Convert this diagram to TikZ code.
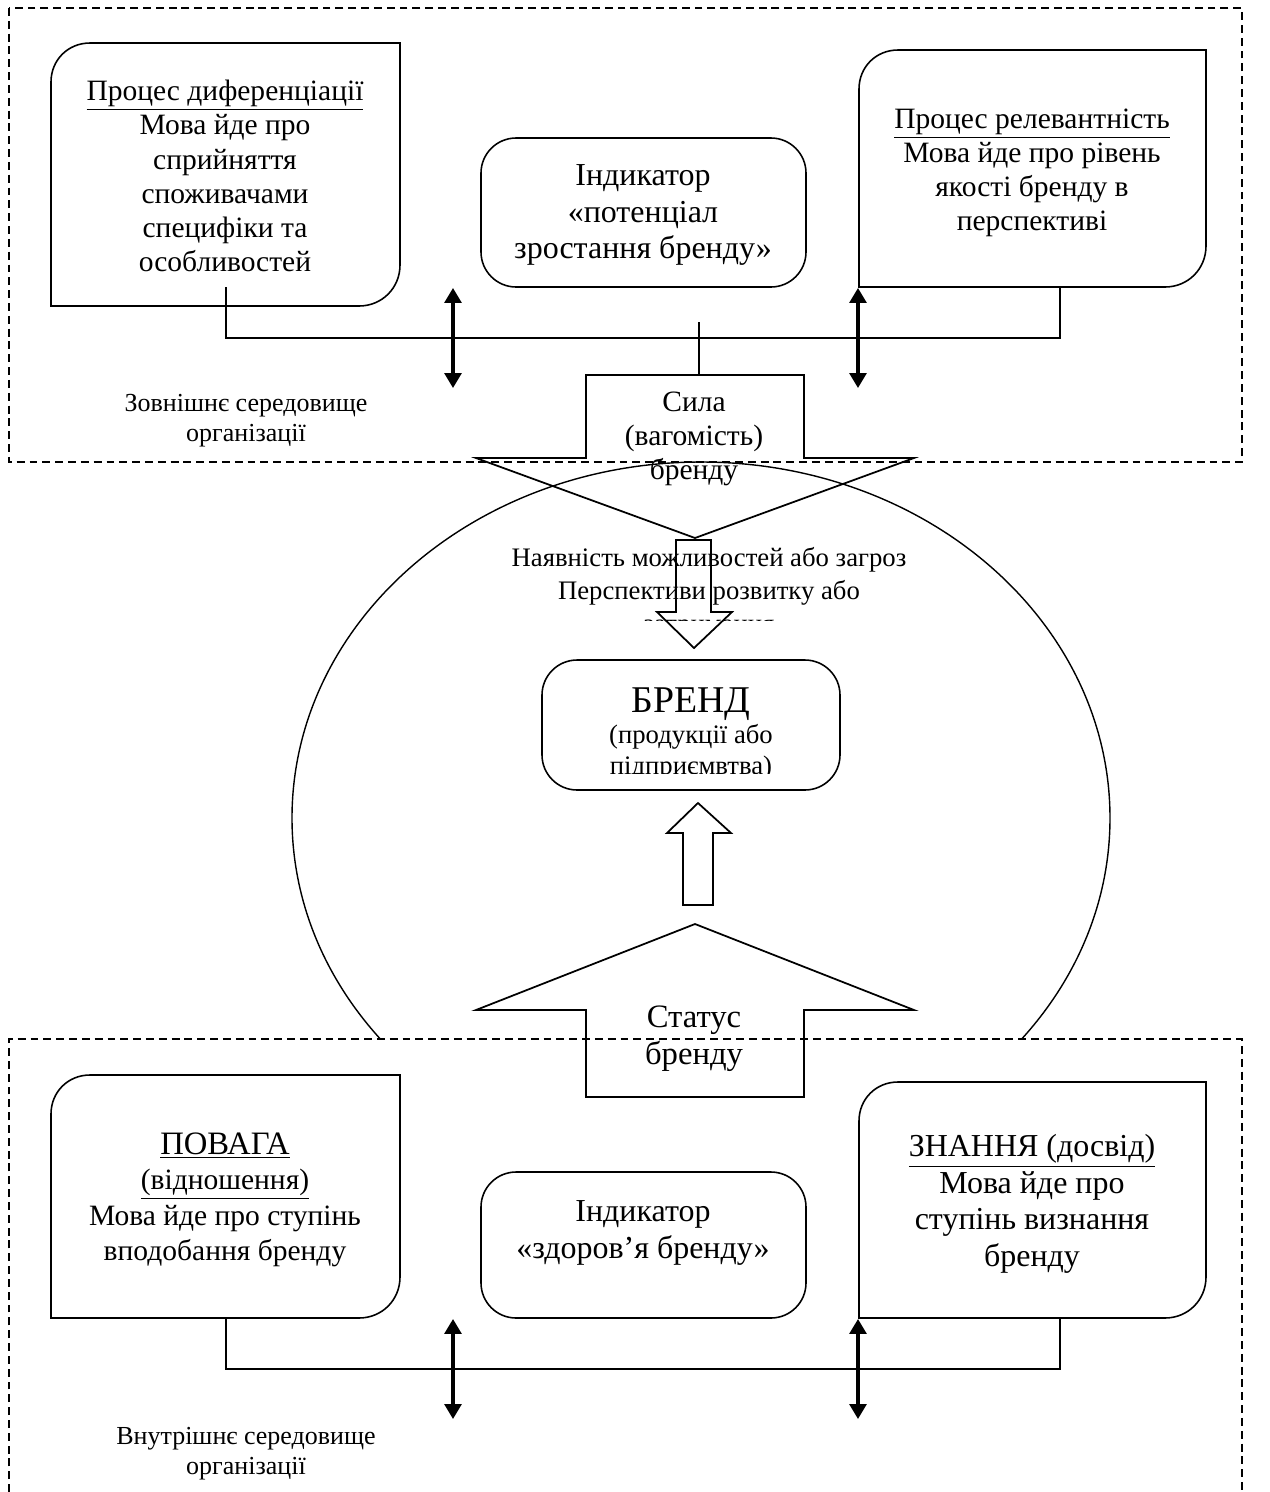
\documentclass[tikz,border=0pt]{standalone}
\usepackage{fontspec}
\setmainfont{Liberation Serif}
\usetikzlibrary{arrows.meta}

% box with a rounded top-left and bottom-right corner
\newcommand\cornerbox[4]{\draw[box] (#1,#4) -- (#1,#2+39) .. controls (#1,#2+17) and (#1+17,#2) .. (#1+39,#2) -- (#3,#2) -- (#3,#4-41) .. controls (#3,#4-18) and (#3-18,#4) .. (#3-41,#4) -- cycle;}

\tikzset{
  txt/.style={align=center,inner sep=0pt,font=\fontsize{16.8}{19.4}\selectfont},
  bigtxt/.style={align=center,inner sep=0pt,font=\fontsize{18.2}{20.8}\selectfont},
  smalltxt/.style={align=center,inner sep=0pt,font=\fontsize{14.8}{17}\selectfont},
  frame/.style={line width=.8pt,dash pattern=on 4.5pt off 2.8pt},
  box/.style={line width=.9pt},
  link/.style={line width=.8pt},
  dbl/.style={line width=1.8pt,{Triangle[length=8.5pt,width=9.6pt]}-{Triangle[length=8.5pt,width=9.6pt]}},
  blockarrow/.style={line width=1pt,line join=miter},
}

\begin{document}
\begin{tikzpicture}[x=0.02cm,y=-0.02cm]
\useasboundingbox (0,0) rectangle (1270,1492);
% circle of the brand and the two environments
\draw[line width=.8pt] (701,818) ellipse [x radius=409,y radius=356];
\draw[frame] (9,8) rectangle (1242,462);
\fill[white] (9,1039) rectangle (1242,1492);
\draw[frame] (9,1492) -- (9,1039) -- (1242,1039) -- (1242,1492);

% upper part
\cornerbox{51}{43}{400}{306}
\draw[box,rounded corners=20pt] (481,138) rectangle (806,287);
\cornerbox{859}{50}{1206}{287}
\node[txt] (diff) at (225,176) {\underline{Процес диференціації}\\Мова йде про\\сприйняття\\споживачами\\специфіки та\\особливостей};
\node[bigtxt] (potent) at (643,215) {Індикатор\\«потенціал\\зростання бренду»};
\node[txt] (relev) at (1032,173) {\underline{Процес релевантність}\\Мова йде про рівень\\якості бренду в\\перспективі};
\node[smalltxt] (outer) at (246,421) {Зовнішнє середовище\\організації};

\coordinate (diffEnd) at (226,287);
\coordinate (relevEnd) at (1060,287);
\coordinate (potentEnd) at (699,322);
\coordinate (silaTop) at (699,375);
\draw[link] (diffEnd) -- ++(0,51) -| (relevEnd);
\draw[link] (potentEnd) -- (silaTop);
\coordinate (upA1) at (453,288);\coordinate (upA2) at (453,388);
\coordinate (upB1) at (858,288);\coordinate (upB2) at (858,388);
\draw[dbl] (upA1) -- (upA2);
\draw[dbl] (upB1) -- (upB2);

% force of the brand
\draw[blockarrow] (586,375) -- (804,375) -- (804,458) -- (914,458) -- (695,538) -- (476,458) -- (586,458) -- cycle;
\node[txt] (sila) at (694,439) {Сила\\(вагомість)\\бренду};
\draw[blockarrow] (676,540) -- (711,540) -- (711,612) -- (732,612) -- (694,648) -- (657,612) -- (676,612) -- cycle;
\begin{scope}
\clip (300,530) rectangle (1100,620);
\node[smalltxt,font=\fontsize{15.2}{18.7}\selectfont] (chance) at (709,593) {Наявність можливостей або загроз\\Перспективи розвитку або\\затримання};
\end{scope}

% brand
\draw[box,rounded corners=20pt] (542,660) rectangle (840,790);
\begin{scope}
\clip (542,660) rectangle (840,773);
\node[smalltxt,font=\fontsize{15.2}{17.6}\selectfont] (brand) at (691,734) {{\fontsize{21.5}{26}\selectfont БРЕНД}\\(продукції або\\підприємвтва)};
\end{scope}
\draw[blockarrow] (683,905) -- (713,905) -- (713,833) -- (731,833) -- (698,803) -- (667,833) -- (683,833) -- cycle;

% status of the brand
\draw[blockarrow] (586,1097) -- (804,1097) -- (804,1010) -- (914,1010) -- (695,924) -- (476,1010) -- (586,1010) -- cycle;
\node[bigtxt,font=\fontsize{18.6}{21.2}\selectfont] (status) at (694,1039) {Статус\\бренду};

% lower part
\cornerbox{51}{1075}{400}{1318}
\draw[box,rounded corners=20pt] (481,1172) rectangle (806,1318);
\cornerbox{859}{1082}{1206}{1318}
\node[txt,font=\fontsize{16.8}{20.2}\selectfont] (respect) at (225,1200) {{\fontsize{18.6}{22.4}\selectfont\underline{ПОВАГА}}\\\underline{(відношення)}\\Мова йде про ступінь\\вподобання бренду};
\node[bigtxt] (health) at (643,1253) {Індикатор\\«здоров’я бренду»\\\strut};
\node[bigtxt] (know) at (1032,1204) {\underline{ЗНАННЯ (досвід)}\\Мова йде про\\ступінь визнання\\бренду};
\node[smalltxt] (inner) at (246,1454) {Внутрішнє середовище\\організації};

\coordinate (respEnd) at (226,1318);
\coordinate (knowEnd) at (1060,1318);
\draw[link] (respEnd) -- ++(0,51) -| (knowEnd);
\coordinate (dnA1) at (453,1319);\coordinate (dnA2) at (453,1419);
\coordinate (dnB1) at (858,1319);\coordinate (dnB2) at (858,1419);
\draw[dbl] (dnA1) -- (dnA2);
\draw[dbl] (dnB1) -- (dnB2);
\end{tikzpicture}
\end{document}
